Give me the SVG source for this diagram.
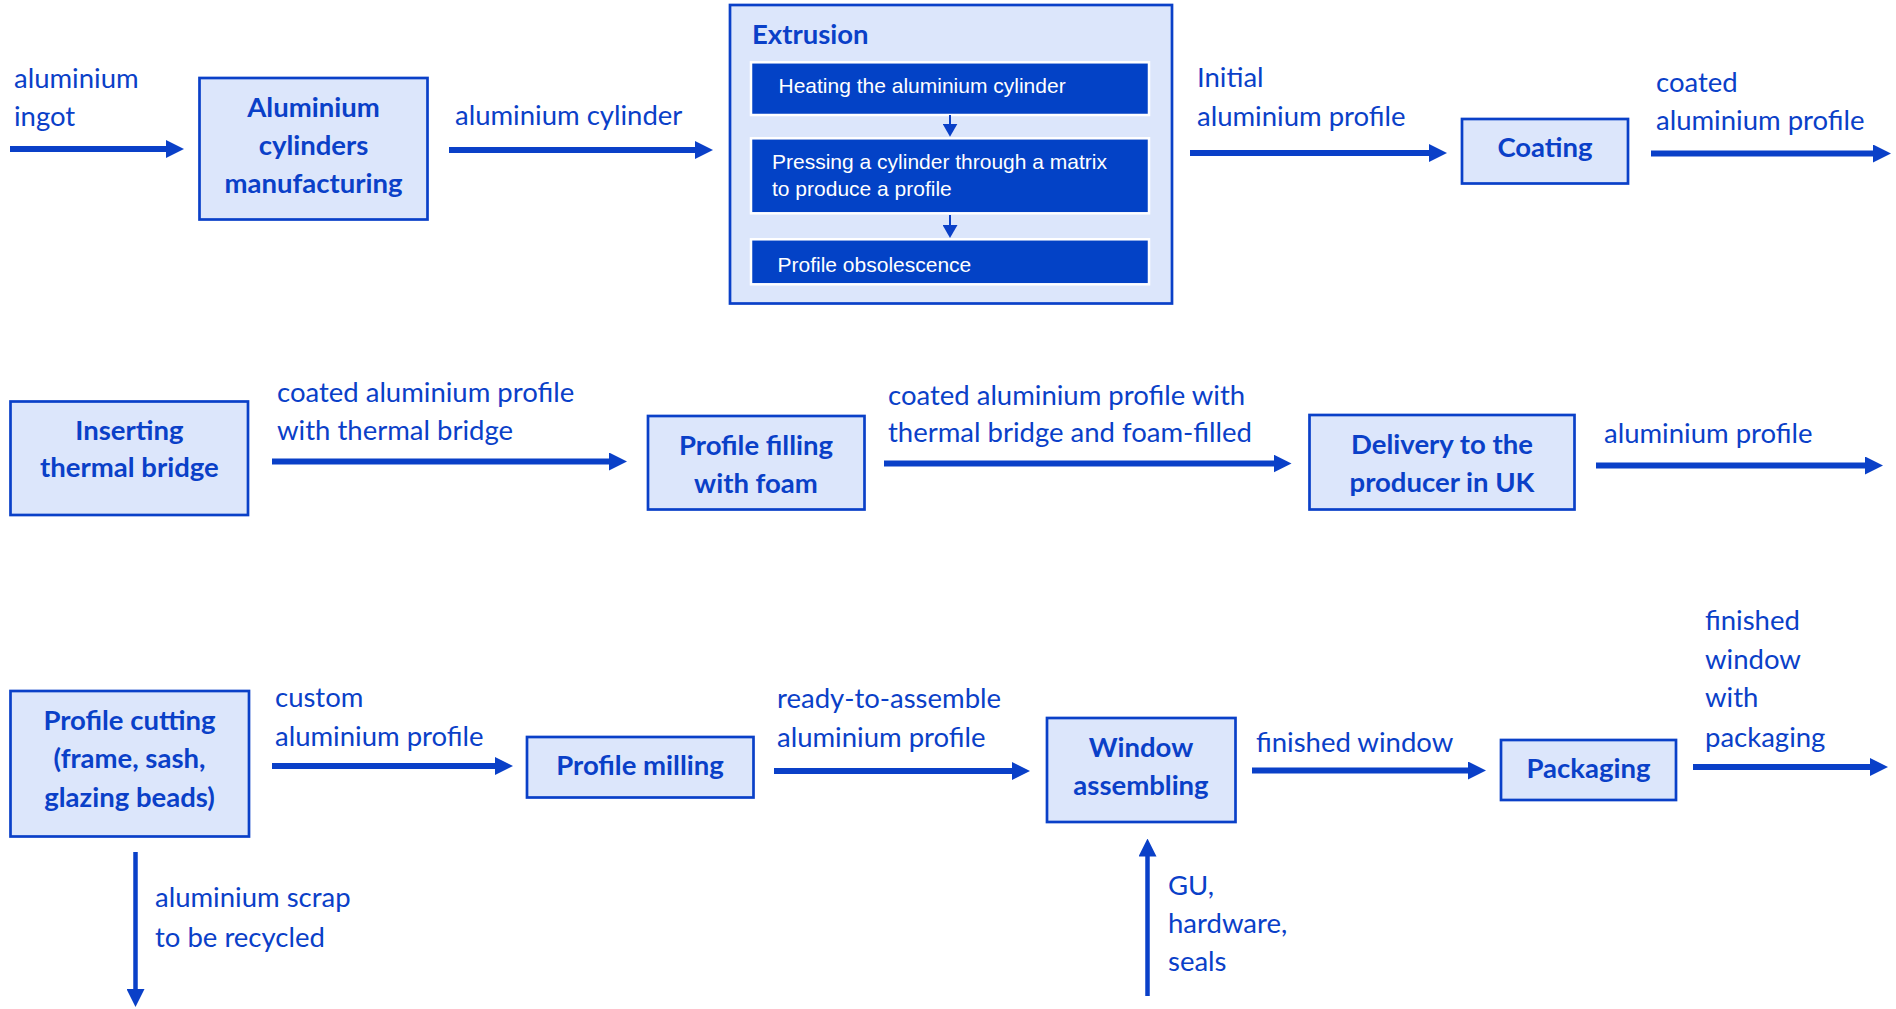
<svg xmlns="http://www.w3.org/2000/svg" width="1896" height="1009" viewBox="0 0 1896 1009">
<style>
.box{fill:#dce6fb;stroke:#0a40c8;stroke-width:2.7}
.inner{fill:#0342c6;stroke:#ffffff;stroke-width:2.5}
.lbl{font-family:Lato,"Liberation Sans",sans-serif;font-size:27.5px;fill:#0a40c8}
.bt{font-family:Lato,"Liberation Sans",sans-serif;font-size:27.5px;font-weight:bold;fill:#0a40c8;text-anchor:middle}
.it{font-family:"Liberation Sans",Arial,sans-serif;font-size:21px;fill:#ffffff}
.arr{stroke:#0a40c8;stroke-width:6;fill:none;marker-end:url(#ah)}
.sarr{stroke:#0a40c8;stroke-width:2;fill:none;marker-end:url(#sah)}
</style>
<defs>
<marker id="ah" markerUnits="userSpaceOnUse" markerWidth="18" markerHeight="18" refX="8" refY="9" orient="auto">
<path d="M0,0 L18,9 L0,18 Z" fill="#0a40c8"/>
</marker>
<marker id="sah" markerUnits="userSpaceOnUse" markerWidth="13" markerHeight="15" refX="7" refY="7.5" orient="auto">
<path d="M0,0 L13,7.5 L0,15 Z" fill="#0a40c8"/>
</marker>
</defs>
<rect width="1896" height="1009" fill="#ffffff"/>

<g id="connectors">
<path class="arr" d="M10,149 H174"/>
<path class="arr" d="M449,150 H703"/>
<path class="arr" d="M1190,153 H1437"/>
<path class="arr" d="M1651,153.5 H1881"/>
<path class="arr" d="M272,461.5 H617"/>
<path class="arr" d="M884,463.5 H1281.5"/>
<path class="arr" d="M1596,465.5 H1873"/>
<path class="arr" d="M272,766 H503"/>
<path class="arr" d="M774,771 H1020"/>
<path class="arr" d="M1252,770.5 H1476"/>
<path class="arr" d="M1693,767 H1878"/>
<path class="arr" style="stroke-width:4.5" d="M135.5,852 V997"/>
<path class="arr" style="stroke-width:4.5" d="M1147.5,996 V848.5"/>
</g>

<g id="labels">
<text class="lbl" x="14" y="88">aluminium</text>
<text class="lbl" x="14" y="126">ingot</text>
<text class="lbl" x="455" y="125">aluminium cylinder</text>
<text class="lbl" x="1197" y="87">Initial</text>
<text class="lbl" x="1197" y="126">aluminium profile</text>
<text class="lbl" x="1656" y="92">coated</text>
<text class="lbl" x="1656" y="130">aluminium profile</text>
<text class="lbl" x="277" y="402">coated aluminium profile</text>
<text class="lbl" x="277" y="440">with thermal bridge</text>
<text class="lbl" x="888" y="405">coated aluminium profile with</text>
<text class="lbl" x="888" y="442">thermal bridge and foam-filled</text>
<text class="lbl" x="1604" y="443">aluminium profile</text>
<text class="lbl" x="275" y="707">custom</text>
<text class="lbl" x="275" y="746">aluminium profile</text>
<text class="lbl" x="777" y="708">ready-to-assemble</text>
<text class="lbl" x="777" y="747">aluminium profile</text>
<text class="lbl" x="1256" y="752">finished window</text>
<text class="lbl" x="1705" y="630">finished</text>
<text class="lbl" x="1705" y="669">window</text>
<text class="lbl" x="1705" y="707">with</text>
<text class="lbl" x="1705" y="747">packaging</text>
<text class="lbl" x="155" y="907">aluminium scrap</text>
<text class="lbl" x="155" y="947">to be recycled</text>
<text class="lbl" x="1168" y="895">GU,</text>
<text class="lbl" x="1168" y="933">hardware,</text>
<text class="lbl" x="1168" y="971">seals</text>
</g>

<g id="n-cylinders">
<rect class="box" x="199.5" y="78" width="228" height="141.5"/>
<text class="bt" x="313.5" y="117">Aluminium</text>
<text class="bt" x="313.5" y="155">cylinders</text>
<text class="bt" x="313.5" y="193">manufacturing</text>
</g>

<g id="n-extrusion">
<rect class="box" x="730" y="5" width="442" height="298.5"/>
<text class="bt" style="text-anchor:start" x="752" y="44">Extrusion</text>
<g id="n-heating">
<rect class="inner" x="751" y="62.3" width="398" height="52.7"/>
<text class="it" x="778.5" y="93">Heating the aluminium cylinder</text>
</g>
<g id="n-pressing">
<rect class="inner" x="751" y="138.3" width="398" height="75"/>
<text class="it" x="772" y="169">Pressing a cylinder through a matrix</text>
<text class="it" x="772" y="196">to produce a profile</text>
</g>
<g id="n-obsolescence">
<rect class="inner" x="751" y="239.3" width="398" height="45"/>
<text class="it" x="777.5" y="271.5">Profile obsolescence</text>
</g>
<path class="sarr" d="M950,115 V130.7"/>
<path class="sarr" d="M950,215 V232"/>
</g>

<g id="n-coating">
<rect class="box" x="1462" y="119" width="166" height="64.5"/>
<text class="bt" x="1545" y="157">Coating</text>
</g>

<g id="n-thermal">
<rect class="box" x="10.5" y="401.5" width="237.5" height="113.5"/>
<text class="bt" x="129.4" y="440">Inserting</text>
<text class="bt" x="129.4" y="477">thermal bridge</text>
</g>

<g id="n-foam">
<rect class="box" x="648" y="416" width="216.5" height="93.5"/>
<text class="bt" x="756" y="455">Profile filling</text>
<text class="bt" x="756" y="493">with foam</text>
</g>

<g id="n-delivery">
<rect class="box" x="1309.5" y="415" width="265" height="94.5"/>
<text class="bt" x="1442" y="454">Delivery to the</text>
<text class="bt" x="1442" y="492">producer in UK</text>
</g>

<g id="n-cutting">
<rect class="box" x="10.5" y="691" width="238.5" height="145.5"/>
<text class="bt" x="129.5" y="730">Profile cutting</text>
<text class="bt" x="129.5" y="768">(frame, sash,</text>
<text class="bt" x="129.5" y="806.5">glazing beads)</text>
</g>

<g id="n-milling">
<rect class="box" x="527" y="737" width="226.5" height="60.5"/>
<text class="bt" x="640" y="775">Profile milling</text>
</g>

<g id="n-assembling">
<rect class="box" x="1047" y="718" width="188.5" height="104"/>
<text class="bt" x="1141" y="756.5">Window</text>
<text class="bt" x="1141" y="795">assembling</text>
</g>

<g id="n-packaging">
<rect class="box" x="1501" y="740" width="175" height="60"/>
<text class="bt" x="1588.5" y="778">Packaging</text>
</g>
</svg>
